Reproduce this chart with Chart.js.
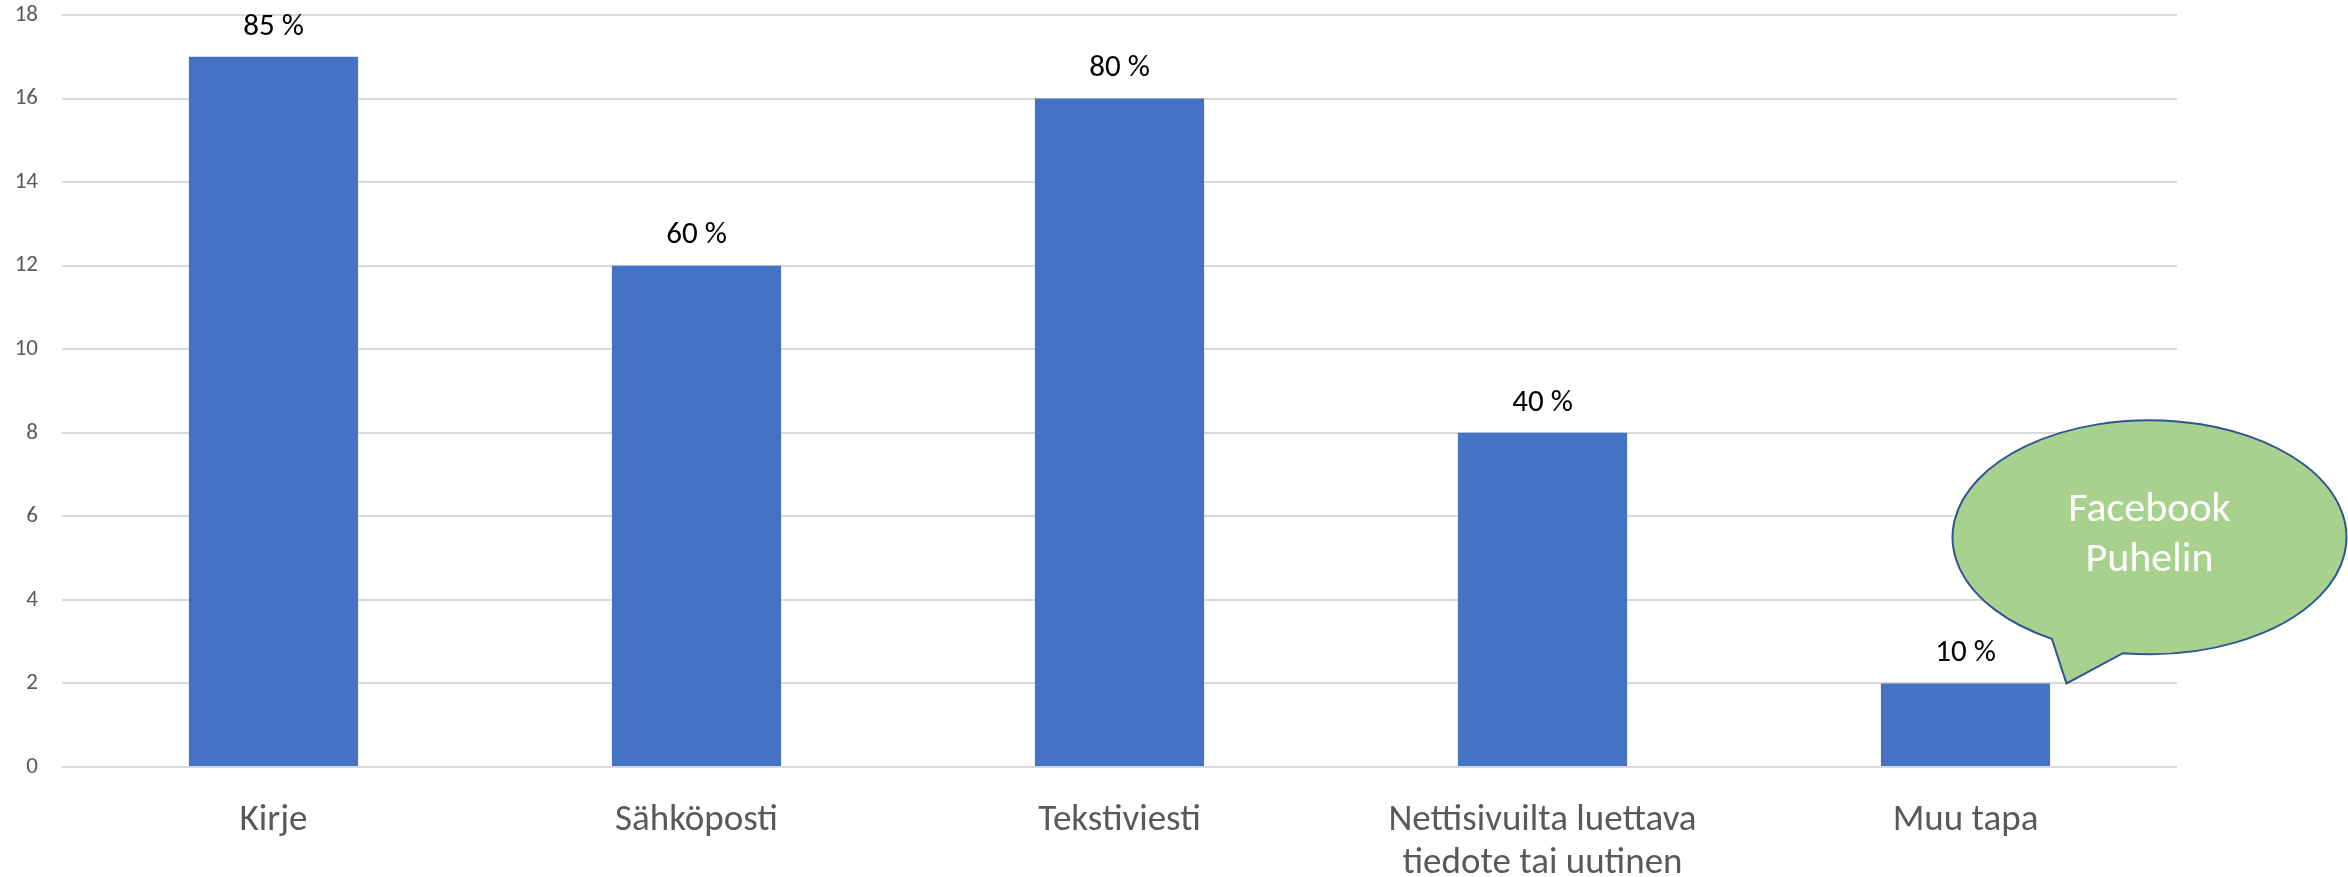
<!DOCTYPE html>
<html>
<head>
<meta charset="utf-8">
<script src="https://cdn.jsdelivr.net/npm/chart.js@4/dist/chart.umd.min.js"></script>
<style>
  html, body { margin: 0; padding: 0; background: #fff; }
  #wrap { width: 2348px; height: 877px; }
</style>
</head>
<body>
<div id="wrap"><canvas id="chart"></canvas></div>
<script>
const categories = ["Kirje", "Sähköposti", "Tekstiviesti", ["Nettisivuilta luettava", "tiedote tai uutinen"], "Muu tapa"];
const values = [17, 12, 16, 8, 2];
const percentLabels = ["85 %", "60 %", "80 %", "40 %", "10 %"];
const yMin = 0, yMax = 18, yStep = 2;
const bubbleLines = ["Facebook", "Puhelin"];

const FONT = "Carlito, Calibri, Lato, sans-serif";

// value labels above the bars
const barLabels = {
  id: "barLabels",
  afterDatasetsDraw(chart) {
    const ctx = chart.ctx;
    const meta = chart.getDatasetMeta(0);
    ctx.save();
    ctx.font = "31px " + FONT;
    ctx.fillStyle = "#000";
    ctx.textAlign = "center";
    ctx.textBaseline = "middle";
    meta.data.forEach((bar, i) => {
      ctx.fillText(percentLabels[i], bar.x, bar.y - 30);
    });
    ctx.restore();
  }
};

// speech bubble pointing at the last bar
const bubble = {
  id: "bubble",
  afterDraw(chart) {
    const ctx = chart.ctx;
    const x = chart.scales.x, y = chart.scales.y;
    const last = values.length - 1;
    const bx = x.getPixelForValue(last);
    const tipX = bx + 101, tipY = y.getPixelForValue(values[last]);
    const cx = bx + 184, cy = y.getPixelForValue(5.5);
    const rx = 197, ry = 117;
    const t1 = 2.089, t2 = 1.706;
    ctx.save();
    ctx.beginPath();
    ctx.ellipse(cx, cy, rx, ry, 0, t1, t2, false);
    ctx.lineTo(tipX, tipY);
    ctx.closePath();
    ctx.fillStyle = "#A9D18E";
    ctx.fill();
    ctx.lineWidth = 2;
    ctx.strokeStyle = "#2F5597";
    ctx.stroke();
    ctx.fillStyle = "#fff";
    ctx.font = "42px " + FONT;
    ctx.textAlign = "center";
    ctx.textBaseline = "middle";
    bubbleLines.forEach((t, i) => ctx.fillText(t, cx, cy - 27 + i * 50));
    ctx.restore();
  }
};

new Chart(document.getElementById("chart"), {
  type: "bar",
  data: {
    labels: categories,
    datasets: [{
      data: values,
      backgroundColor: "#4472C4",
      barPercentage: 0.4,
      categoryPercentage: 1.0
    }]
  },
  options: {
    responsive: true,
    maintainAspectRatio: false,
    animation: false,
    layout: { padding: { top: 15, right: 171, left: 0, bottom: 0 } },
    plugins: { legend: { display: false }, tooltip: { enabled: false } },
    scales: {
      x: {
        grid: { display: false },
        border: { display: false },
        ticks: {
          color: "#595959",
          font: { family: FONT, size: 37, lineHeight: 1.16 },
          padding: 24,
          maxRotation: 0,
          autoSkip: false
        },
        afterFit(scale) { scale.height = 110; }
      },
      y: {
        min: yMin,
        max: yMax,
        grid: { color: "#D9D9D9", lineWidth: 2, drawTicks: false },
        border: { display: false },
        ticks: {
          stepSize: yStep,
          color: "#595959",
          font: { family: FONT, size: 23 },
          padding: 24
        },
        afterFit(scale) { scale.width = 62; scale.paddingTop = 0; scale.paddingBottom = 0; }
      }
    }
  },
  plugins: [barLabels, bubble]
});
</script>
</body>
</html>
